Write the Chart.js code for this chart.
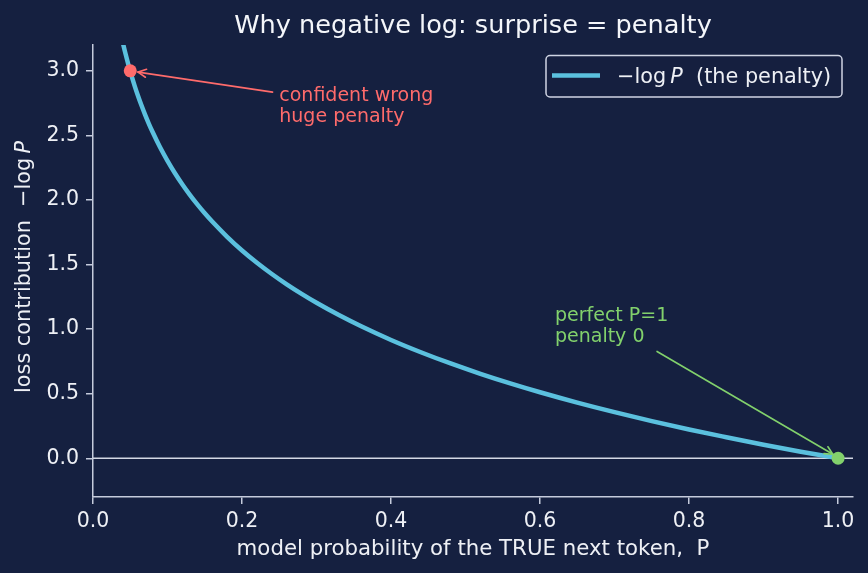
<!DOCTYPE html>
<html>
<head>
<meta charset="utf-8">
<script src="https://cdn.jsdelivr.net/npm/chart.js@4.4.1/dist/chart.umd.min.js"></script>
<style>
  html, body { margin: 0; padding: 0; background: #152040; }
  #wrap { width: 868px; height: 573px; }
</style>
</head>
<body>
<div id="wrap"><canvas id="c" width="868" height="573"></canvas></div>
<script>
// ---- data ----
const xTicks = [0.0, 0.2, 0.4, 0.6, 0.8, 1.0];
const yTicks = [0.0, 0.5, 1.0, 1.5, 2.0, 2.5, 3.0];
const probs = [0.03, 0.033, 0.036, 0.04, 0.044, 0.048, 0.052, 0.056, 0.06, 0.065, 0.07, 0.075, 0.08, 0.09, 0.10, 0.11, 0.12, 0.13, 0.14, 0.15, 0.16, 0.18, 0.20, 0.22, 0.24, 0.26, 0.28, 0.30, 0.33, 0.36, 0.40, 0.44, 0.48, 0.52, 0.56, 0.60, 0.65, 0.70, 0.75, 0.80, 0.85, 0.90, 0.95, 1.00];
const penalty = [3.507, 3.411, 3.324, 3.219, 3.124, 3.037, 2.957, 2.882, 2.813, 2.733, 2.659, 2.590, 2.526, 2.408, 2.303, 2.207, 2.120, 2.040, 1.966, 1.897, 1.833, 1.715, 1.609, 1.514, 1.427, 1.347, 1.273, 1.204, 1.109, 1.022, 0.916, 0.821, 0.734, 0.654, 0.580, 0.511, 0.431, 0.357, 0.288, 0.223, 0.163, 0.105, 0.051, 0.000];
const wrongPoint = [0.05, 3.0];
const perfectPoint = [1.0, 0.0];
const zeroLine = [[0.0, 0.0], [1.02, 0.0]];
const redNote = ["confident wrong", "huge penalty"];
const redNoteAt = [0.25, 2.6];
const redArrow = [[0.241, 2.835], [0.0604, 2.99]];
const greenNote = ["perfect P=1", "penalty 0"];
const greenNoteAt = [0.62, 0.9];
const greenArrow = [[0.757, 0.827], [0.993, 0.031]];
const titleText = "Why negative log: surprise = penalty";
const xLabelText = "model probability of the TRUE next token,  P";

// ---- styles ----
const BG = '#152040';
const CURVE = '#5bc0de';
const RED = '#ff6b6b';
const GREEN = '#82d16c';
const SPINE = '#c5cbdc';
const TXT = '#eef0f5';
const FONT = '"DejaVu Sans", sans-serif';

const curveData = probs.map((p, i) => ({x: p, y: penalty[i]}));

function drawArrow(ctx, x1, y1, x2, y2, color) {
  ctx.save();
  ctx.strokeStyle = color;
  ctx.lineWidth = 1.6;
  ctx.lineCap = 'round';
  ctx.beginPath();
  ctx.moveTo(x1, y1);
  ctx.lineTo(x2, y2);
  ctx.stroke();
  const ang = Math.atan2(y2 - y1, x2 - x1);
  const L = 9, a = 0.46;
  ctx.beginPath();
  ctx.moveTo(x2 - L * Math.cos(ang - a), y2 - L * Math.sin(ang - a));
  ctx.lineTo(x2, y2);
  ctx.lineTo(x2 - L * Math.cos(ang + a), y2 - L * Math.sin(ang + a));
  ctx.stroke();
  ctx.restore();
}

function drawSegs(ctx, segs, x, y, size, color) {
  ctx.fillStyle = color;
  ctx.textBaseline = 'alphabetic';
  ctx.textAlign = 'left';
  let cx = x;
  for (const [t, it] of segs) {
    ctx.font = (it ? 'italic ' : '') + size + 'px ' + FONT;
    ctx.fillText(t, cx, y);
    cx += ctx.measureText(t).width;
  }
  return cx - x;
}
function segsWidth(ctx, segs, size) {
  let w = 0;
  for (const [t, it] of segs) {
    ctx.font = (it ? 'italic ' : '') + size + 'px ' + FONT;
    w += ctx.measureText(t).width;
  }
  return w;
}

const overlay = {
  id: 'overlay',
  beforeDraw(chart) {
    const ctx = chart.ctx;
    ctx.save();
    ctx.fillStyle = BG;
    ctx.fillRect(0, 0, chart.width, chart.height);
    ctx.restore();
  },
  afterDatasetsDraw(chart) {
    const ctx = chart.ctx;
    const xs = chart.scales.x, ys = chart.scales.y;
    const px = v => xs.getPixelForValue(v), py = v => ys.getPixelForValue(v);
    drawArrow(ctx, px(redArrow[0][0]), py(redArrow[0][1]), px(redArrow[1][0]), py(redArrow[1][1]), RED);
    drawArrow(ctx, px(greenArrow[0][0]), py(greenArrow[0][1]), px(greenArrow[1][0]), py(greenArrow[1][1]), GREEN);
  },
  afterDraw(chart) {
    const ctx = chart.ctx;
    const xs = chart.scales.x, ys = chart.scales.y;
    const px = v => xs.getPixelForValue(v), py = v => ys.getPixelForValue(v);
    const ca = chart.chartArea;
    const cxMid = (ca.left + ca.right) / 2;
    ctx.save();
    // title
    ctx.font = '25.6px ' + FONT;
    ctx.fillStyle = '#f4f6fa';
    ctx.textAlign = 'center';
    ctx.textBaseline = 'alphabetic';
    ctx.fillText(titleText, cxMid, 33);
    // x label
    ctx.font = '21.3px ' + FONT;
    ctx.fillStyle = TXT;
    ctx.fillText(xLabelText, cxMid, 555);
    // y label (rotated)
    const ySegs = [["loss contribution  \u2212log\u2009", false], ["P", true]];
    const yw = segsWidth(ctx, ySegs, 20.8);
    ctx.save();
    ctx.translate(30, 267);
    ctx.rotate(-Math.PI / 2);
    drawSegs(ctx, ySegs, -yw / 2, 0, 20.8, TXT);
    ctx.restore();
    // annotations text
    const lh = 21.5;
    ctx.font = '19px ' + FONT;
    ctx.textAlign = 'left';
    ctx.fillStyle = RED;
    redNote.forEach((t, i) => ctx.fillText(t, px(redNoteAt[0]), py(redNoteAt[1]) - (redNote.length - 1 - i) * lh));
    ctx.fillStyle = GREEN;
    greenNote.forEach((t, i) => ctx.fillText(t, px(greenNoteAt[0]), py(greenNoteAt[1]) - (greenNote.length - 1 - i) * lh));
    // legend
    const bx = 546, by = 55.5, bw = 296, bh = 41.5, r = 4;
    ctx.beginPath();
    ctx.roundRect(bx, by, bw, bh, r);
    ctx.fillStyle = 'rgba(21,32,64,0.85)';
    ctx.fill();
    ctx.lineWidth = 1.5;
    ctx.strokeStyle = '#cfd4e3';
    ctx.stroke();
    ctx.strokeStyle = CURVE;
    ctx.lineWidth = 4.5;
    ctx.beginPath();
    ctx.moveTo(552, 75.5);
    ctx.lineTo(600, 75.5);
    ctx.stroke();
    drawSegs(ctx, [["\u2212log\u2009", false], ["P", true], ["  (the penalty)", false]], 617, 83, 20.8, TXT);
    ctx.restore();
  }
};

new Chart(document.getElementById('c'), {
  type: 'scatter',
  data: {
    datasets: [
      {
        label: 'wrong', data: [{x: wrongPoint[0], y: wrongPoint[1]}],
        pointRadius: 6.5, pointBackgroundColor: RED, pointBorderWidth: 0, order: 0
      },
      {
        label: 'perfect', data: [{x: perfectPoint[0], y: perfectPoint[1]}],
        pointRadius: 6.5, pointBackgroundColor: GREEN, pointBorderWidth: 0, order: 0
      },
      {
        label: 'penalty', data: curveData, showLine: true, pointRadius: 0,
        borderColor: CURVE, borderWidth: 4.5, cubicInterpolationMode: 'monotone',
        borderCapStyle: 'round', borderJoinStyle: 'round', clip: 0, order: 1
      },
      {
        label: 'zero', data: zeroLine.map(p => ({x: p[0], y: p[1]})), showLine: true, pointRadius: 0,
        borderColor: '#d4d8e4', borderWidth: 1.6, clip: 0, order: 2
      }
    ]
  },
  options: {
    responsive: false,
    animation: false,
    devicePixelRatio: 1,
    layout: { padding: { left: 0, right: 15, top: 45, bottom: 0 } },
    plugins: { legend: { display: false }, tooltip: { enabled: false }, title: { display: false } },
    scales: {
      x: {
        type: 'linear', min: 0, max: 1.02,
        afterBuildTicks: s => { s.ticks = xTicks.map(v => ({value: v})); },
        afterFit: s => { s.height = 76; },
        ticks: { color: TXT, font: { family: FONT, size: 20.5 }, padding: 5, maxRotation: 0, autoSkip: false,
                 callback: v => Number(v).toFixed(1) },
        grid: { display: true, drawOnChartArea: false, drawTicks: true, tickLength: 7, color: SPINE, lineWidth: 1.5 },
        border: { display: true, color: SPINE, width: 1.5 }
      },
      y: {
        type: 'linear', min: -0.3, max: 3.2,
        afterBuildTicks: s => { s.ticks = yTicks.map(v => ({value: v})); },
        afterFit: s => { s.width = 93; },
        ticks: { color: TXT, font: { family: FONT, size: 20.5 }, padding: 7, autoSkip: false,
                 callback: v => Number(v).toFixed(1) },
        grid: { display: true, drawOnChartArea: false, drawTicks: true, tickLength: 7, color: SPINE, lineWidth: 1.5 },
        border: { display: true, color: SPINE, width: 1.5 }
      }
    }
  },
  plugins: [overlay]
});
</script>
</body>
</html>
